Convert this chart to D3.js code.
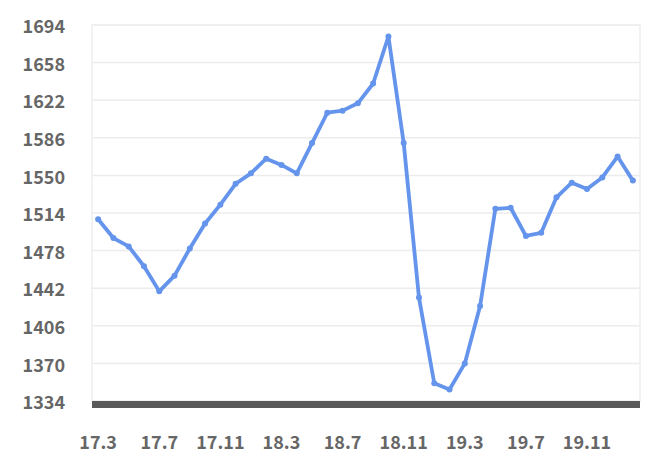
<!DOCTYPE html>
<html><head><meta charset="utf-8">
<script src="https://cdn.jsdelivr.net/npm/d3@7"></script>
<style>html,body{margin:0;padding:0;background:#fff;}svg{display:block;}</style>
</head><body>
<svg id="chart" width="666" height="460"></svg>
<script>
const months = ["17.3","17.4","17.5","17.6","17.7","17.8","17.9","17.10","17.11","17.12",
  "18.1","18.2","18.3","18.4","18.5","18.6","18.7","18.8","18.9","18.10","18.11","18.12",
  "19.1","19.2","19.3","19.4","19.5","19.6","19.7","19.8","19.9","19.10","19.11","19.12",
  "20.1","20.2"];
const values = [1508,1490,1482,1463,1439,1454,1480,1504,1522,1542,
  1552,1566,1560,1552,1581,1610,1612,1619,1638,1683,1581,1433,
  1351,1345,1370,1425,1518,1519,1492,1495,1529,1543,1537,1548,
  1568,1545];
const yTicks = [1334,1370,1406,1442,1478,1514,1550,1586,1622,1658,1694];
const xTickLabels = ["17.3","17.7","17.11","18.3","18.7","18.11","19.3","19.7","19.11"];

const svg = d3.select("#chart");
const plot = {left:92, right:640, top:25, bottom:401};
const x = d3.scaleBand().domain(months).range([90.5, 640.5]);
const cx = d => x(d) + x.bandwidth()/2;
const y = d3.scaleLinear().domain([1334,1694]).range([plot.bottom, plot.top]);

// grid lines
svg.append("g").selectAll("line").data(yTicks).join("line")
  .attr("x1", plot.left).attr("x2", plot.right)
  .attr("y1", d=>y(d)).attr("y2", d=>y(d))
  .attr("stroke", "#ececec").attr("stroke-width", 1.5);
// plot border
svg.append("rect").attr("x", plot.left).attr("y", plot.top)
  .attr("width", plot.right-plot.left).attr("height", plot.bottom-plot.top)
  .attr("fill","none").attr("stroke","#eeeeee").attr("stroke-width",1.5);

// y axis labels
const yAxis = d3.axisLeft(y).tickValues(yTicks).tickSize(0).tickPadding(0).tickFormat(d3.format("d"));
const yg = svg.append("g").attr("transform","translate(65,2)").call(yAxis);
yg.select(".domain").remove();
yg.selectAll("text").attr("font-family","'Noto Sans CJK SC','Noto Sans',sans-serif")
  .attr("font-weight","bold").attr("font-size","18px").attr("fill","#666");

// dark base bar
svg.append("rect").attr("x", plot.left).attr("y", y(1334))
  .attr("width", plot.right-plot.left).attr("height", 7).attr("fill","#595959");

// x axis labels
const xAxis = d3.axisBottom(x).tickValues(xTickLabels).tickSize(0).tickPadding(0);
const xg = svg.append("g").attr("transform","translate(0,436)").call(xAxis);
xg.select(".domain").remove();
xg.selectAll("text").attr("font-family","'Noto Sans CJK SC','Noto Sans',sans-serif")
  .attr("font-weight","bold").attr("font-size","18px").attr("fill","#666");

// line
const line = d3.line().x((d,i)=>cx(months[i])).y(d=>y(d));
svg.append("path").datum(values).attr("d", line)
  .attr("fill","none").attr("stroke","#6594ec").attr("stroke-width",3.8)
  .attr("stroke-linejoin","round").attr("stroke-linecap","round");
svg.append("g").selectAll("circle").data(values).join("circle")
  .attr("cx",(d,i)=>cx(months[i])).attr("cy",d=>y(d)).attr("r",3)
  .attr("fill","#6594ec");
</script>
</body></html>
